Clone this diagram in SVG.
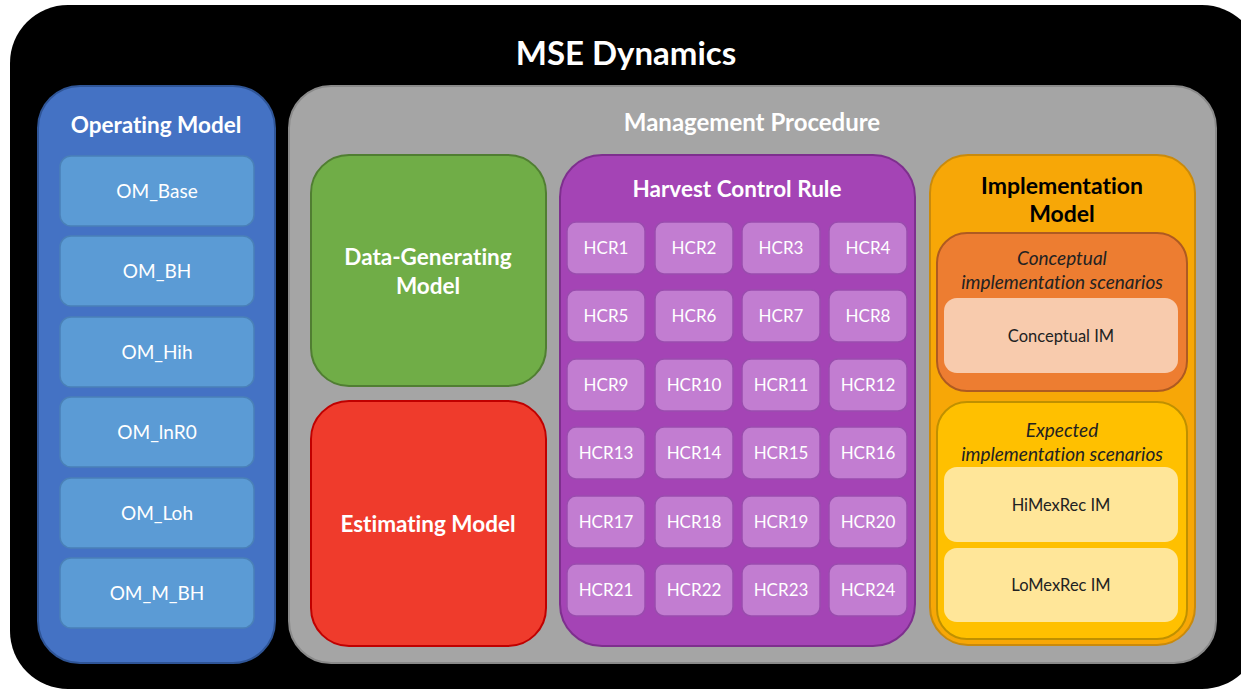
<svg xmlns="http://www.w3.org/2000/svg" width="1241" height="694" viewBox="0 0 1241 694">
  <style>
    text { font-family: Lato, "Open Sans", "Liberation Sans", sans-serif; text-anchor: middle; font-variant-ligatures: none; }
    .t-w { fill: #ffffff; font-weight: bold; }
    .t-b { fill: #000000; font-weight: bold; }
    .lbl { fill: #ffffff; font-size: 17px; }
    .oml { fill: #ffffff; font-size: 19px; }
    .dark { fill: #222222; font-size: 16.5px; }
    .it { fill: #222222; font-size: 19px; font-style: italic; }
    .om { fill: #5B9BD5; stroke: #4A80B8; stroke-width: 1.5; }
    .hcr { fill: #C27DD1; stroke: #9A4CAE; stroke-width: 1.5; }
  </style>

  <!-- outer frame -->
  <g id="mse-dynamics">
    <rect x="10" y="5" width="1250" height="684" rx="58" fill="#000000"/>
    <text class="t-w" x="626" y="65" font-size="33">MSE Dynamics</text>
  </g>

  <!-- operating model column -->
  <g id="operating-model">
    <rect x="38" y="86" width="237" height="577" rx="42" fill="#4472C4" stroke="#2F5597" stroke-width="2"/>
    <text class="t-w" x="156" y="133" font-size="22.5">Operating Model</text>
  </g>
  <g id="om-base"><rect class="om" x="60" y="156" width="194" height="70" rx="11"/><text class="oml" x="157" y="198">OM_Base</text></g>
  <g id="om-bh"><rect class="om" x="60" y="236" width="194" height="70" rx="11"/><text class="oml" x="157" y="278">OM_BH</text></g>
  <g id="om-hih"><rect class="om" x="60" y="317" width="194" height="70" rx="11"/><text class="oml" x="157" y="359">OM_Hih</text></g>
  <g id="om-lnr0"><rect class="om" x="60" y="397" width="194" height="70" rx="11"/><text class="oml" x="157" y="439">OM_lnR0</text></g>
  <g id="om-loh"><rect class="om" x="60" y="478" width="194" height="70" rx="11"/><text class="oml" x="157" y="520">OM_Loh</text></g>
  <g id="om-m-bh"><rect class="om" x="60" y="558" width="194" height="70" rx="11"/><text class="oml" x="157" y="600">OM_M_BH</text></g>

  <!-- management procedure panel -->
  <g id="management-procedure">
    <rect x="289" y="86" width="927" height="577" rx="42" fill="#A5A5A5" stroke="#8A8A8A" stroke-width="2"/>
    <text class="t-w" x="752" y="131" font-size="24">Management Procedure</text>
  </g>

  <g id="data-generating-model">
    <rect x="311" y="155" width="235" height="231" rx="38" fill="#70AD47" stroke="#507E32" stroke-width="2"/>
    <text class="t-w" x="428" y="265" font-size="22.5">Data-Generating</text>
    <text class="t-w" x="428" y="294" font-size="22.5">Model</text>
  </g>

  <g id="estimating-model">
    <rect x="311" y="401" width="235" height="245" rx="38" fill="#EF3B2C" stroke="#C00000" stroke-width="2"/>
    <text class="t-w" x="428" y="532" font-size="22.5">Estimating Model</text>
  </g>

  <!-- harvest control rule grid -->
  <g id="harvest-control-rule">
    <rect x="560" y="155" width="355" height="491" rx="42" fill="#A444B5" stroke="#7E2F8E" stroke-width="2"/>
    <text class="t-w" x="737" y="197" font-size="22.5">Harvest Control Rule</text>
  </g>
  <g id="hcr1"><rect class="hcr" x="567" y="222" width="78" height="52" rx="9"/><text class="lbl" x="606" y="254">HCR1</text></g>
  <g id="hcr2"><rect class="hcr" x="655" y="222" width="78" height="52" rx="9"/><text class="lbl" x="694" y="254">HCR2</text></g>
  <g id="hcr3"><rect class="hcr" x="742" y="222" width="78" height="52" rx="9"/><text class="lbl" x="781" y="254">HCR3</text></g>
  <g id="hcr4"><rect class="hcr" x="829" y="222" width="78" height="52" rx="9"/><text class="lbl" x="868" y="254">HCR4</text></g>
  <g id="hcr5"><rect class="hcr" x="567" y="290" width="78" height="52" rx="9"/><text class="lbl" x="606" y="322">HCR5</text></g>
  <g id="hcr6"><rect class="hcr" x="655" y="290" width="78" height="52" rx="9"/><text class="lbl" x="694" y="322">HCR6</text></g>
  <g id="hcr7"><rect class="hcr" x="742" y="290" width="78" height="52" rx="9"/><text class="lbl" x="781" y="322">HCR7</text></g>
  <g id="hcr8"><rect class="hcr" x="829" y="290" width="78" height="52" rx="9"/><text class="lbl" x="868" y="322">HCR8</text></g>
  <g id="hcr9"><rect class="hcr" x="567" y="359" width="78" height="52" rx="9"/><text class="lbl" x="606" y="391">HCR9</text></g>
  <g id="hcr10"><rect class="hcr" x="655" y="359" width="78" height="52" rx="9"/><text class="lbl" x="694" y="391">HCR10</text></g>
  <g id="hcr11"><rect class="hcr" x="742" y="359" width="78" height="52" rx="9"/><text class="lbl" x="781" y="391">HCR11</text></g>
  <g id="hcr12"><rect class="hcr" x="829" y="359" width="78" height="52" rx="9"/><text class="lbl" x="868" y="391">HCR12</text></g>
  <g id="hcr13"><rect class="hcr" x="567" y="427" width="78" height="52" rx="9"/><text class="lbl" x="606" y="459">HCR13</text></g>
  <g id="hcr14"><rect class="hcr" x="655" y="427" width="78" height="52" rx="9"/><text class="lbl" x="694" y="459">HCR14</text></g>
  <g id="hcr15"><rect class="hcr" x="742" y="427" width="78" height="52" rx="9"/><text class="lbl" x="781" y="459">HCR15</text></g>
  <g id="hcr16"><rect class="hcr" x="829" y="427" width="78" height="52" rx="9"/><text class="lbl" x="868" y="459">HCR16</text></g>
  <g id="hcr17"><rect class="hcr" x="567" y="496" width="78" height="52" rx="9"/><text class="lbl" x="606" y="528">HCR17</text></g>
  <g id="hcr18"><rect class="hcr" x="655" y="496" width="78" height="52" rx="9"/><text class="lbl" x="694" y="528">HCR18</text></g>
  <g id="hcr19"><rect class="hcr" x="742" y="496" width="78" height="52" rx="9"/><text class="lbl" x="781" y="528">HCR19</text></g>
  <g id="hcr20"><rect class="hcr" x="829" y="496" width="78" height="52" rx="9"/><text class="lbl" x="868" y="528">HCR20</text></g>
  <g id="hcr21"><rect class="hcr" x="567" y="564" width="78" height="52" rx="9"/><text class="lbl" x="606" y="596">HCR21</text></g>
  <g id="hcr22"><rect class="hcr" x="655" y="564" width="78" height="52" rx="9"/><text class="lbl" x="694" y="596">HCR22</text></g>
  <g id="hcr23"><rect class="hcr" x="742" y="564" width="78" height="52" rx="9"/><text class="lbl" x="781" y="596">HCR23</text></g>
  <g id="hcr24"><rect class="hcr" x="829" y="564" width="78" height="52" rx="9"/><text class="lbl" x="868" y="596">HCR24</text></g>

  <!-- implementation model column -->
  <g id="implementation-model">
    <rect x="930" y="155" width="265" height="490" rx="38" fill="#F7A707" stroke="#C98A0C" stroke-width="2"/>
    <text class="t-b" x="1062" y="194" font-size="23">Implementation</text>
    <text class="t-b" x="1062" y="222" font-size="23">Model</text>
  </g>

  <g id="conceptual-scenarios">
    <rect x="937" y="233" width="250" height="158" rx="30" fill="#ED7D31" stroke="#AE5A21" stroke-width="2"/>
    <text class="it" x="1062" y="265">Conceptual</text>
    <text class="it" x="1062" y="289">implementation scenarios</text>
  </g>
  <g id="conceptual-im">
    <rect x="944" y="298" width="234" height="75" rx="13" fill="#F8CBAD"/>
    <text class="dark" x="1061" y="342">Conceptual IM</text>
  </g>

  <g id="expected-scenarios">
    <rect x="937" y="402" width="250" height="237" rx="30" fill="#FFC000" stroke="#BF9000" stroke-width="2"/>
    <text class="it" x="1062" y="437">Expected</text>
    <text class="it" x="1062" y="461">implementation scenarios</text>
  </g>
  <g id="himexrec-im">
    <rect x="944" y="467" width="234" height="75" rx="13" fill="#FFE699"/>
    <text class="dark" x="1061" y="511">HiMexRec IM</text>
  </g>
  <g id="lomexrec-im">
    <rect x="944" y="548" width="234" height="74" rx="13" fill="#FFE699"/>
    <text class="dark" x="1061" y="591">LoMexRec IM</text>
  </g>

  <!-- no connectors are drawn in this figure -->
  <g id="connectors"/>
</svg>
